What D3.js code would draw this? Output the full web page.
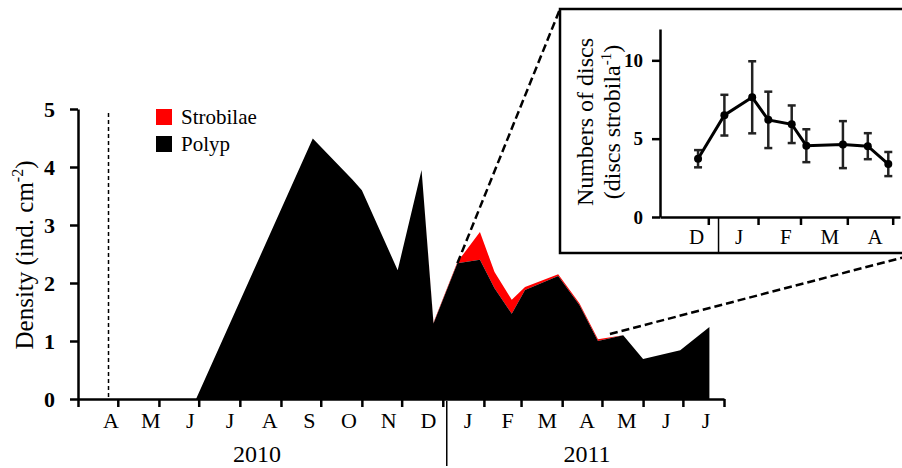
<!DOCTYPE html>
<html><head><meta charset="utf-8">
<script src="https://cdn.jsdelivr.net/npm/d3@7"></script>
<style>body{margin:0;background:#fff}svg{display:block}text{font-family:"Liberation Serif","Times New Roman",serif}</style>
</head><body><svg id="c" width="902" height="468"></svg>
<script>
// ---- main chart data ----
const sampleDates = ["2010-04-24","2010-06-29","2010-09-25","2010-10-25","2010-11-01","2010-11-28","2010-12-16","2010-12-25","2011-01-12","2011-01-29","2011-02-09","2011-02-22","2011-03-04","2011-03-29","2011-04-14","2011-04-28","2011-05-17","2011-06-01","2011-06-29","2011-07-21"];
const polyp      = [0,0,4.49,3.78,3.6,2.22,3.95,1.30,2.34,2.40,1.91,1.47,1.88,2.12,1.62,1.00,1.10,0.69,0.84,1.24];
const strobilae  = [0,0,0,0,0,0,0,0.02,0.02,0.48,0.28,0.24,0.05,0.03,0.03,0.03,0,0,0,0];
const monthLabels = ["A","M","J","J","A","S","O","N","D","J","F","M","A","M","J","J"];
const yearLabels = ["2010","2011"];
const yTicks = [0,1,2,3,4,5];
const legendItems = [{name:"Strobilae",color:"#ff0000"},{name:"Polyp",color:"#000000"}];
const markerDate = "2010-04-24";
// ---- inset data ----
const insetDates = ["2010-12-18","2011-01-05","2011-01-24","2011-02-04","2011-02-20","2011-03-02","2011-03-27","2011-04-13","2011-04-27"];
const insetMean  = [3.72,6.5,7.64,6.2,5.92,4.55,4.62,4.52,3.38];
const insetErr   = [0.55,1.3,2.3,1.8,1.2,1.05,1.5,0.83,0.77];
const insetTicks = ["2010-12-25","2011-01-28","2011-02-26","2011-03-30","2011-04-30"];
const insetLabelDates = ["2010-12-17","2011-01-15","2011-02-16","2011-03-18","2011-04-18"];
const insetLabels = ["D","J","F","M","A"];
const insetYTicks = [0,5,10];

const P = d3.timeParse("%Y-%m-%d");
const svg = d3.select("#c");

// scales main
const x = d3.scaleTime().domain([P("2010-04-01"),P("2011-08-01")]).range([78,724]);
const y = d3.scaleLinear().domain([0,5]).range([399,109]);
const xl = d3.scalePoint().domain(d3.range(monthLabels.length)).range([111,706]);

const rows = sampleDates.map((d,i)=>({date:P(d),polyp:polyp[i],strob:strobilae[i]}));
const stack = d3.stack().keys(["polyp","strob"])(rows);
const area = d3.area().x(d=>x(d.data.date)).y0(d=>y(d[0])).y1(d=>y(d[1]));
svg.append("path").datum(stack[1]).attr("d",area).attr("fill","#ff0000");
svg.append("path").datum(stack[0]).attr("d",area).attr("fill","#000");

// dashed marker line
svg.append("line").attr("x1",x(P(markerDate))).attr("x2",x(P(markerDate)))
  .attr("y1",y(4.93)).attr("y2",y(0)).attr("stroke","#000").attr("stroke-width",1.5).attr("stroke-dasharray","4,3");

// y axis
const gy = svg.append("g").attr("transform","translate(78,0)")
  .call(d3.axisLeft(y).tickValues(yTicks).tickSize(8).tickSizeOuter(0).tickFormat(d3.format("d")));
gy.select(".domain").attr("stroke-width",2.5);
gy.selectAll(".tick line").attr("stroke-width",2.5);
gy.selectAll(".tick text").attr("font-size",22).attr("font-weight","bold").attr("x",-23).attr("font-family","Liberation Serif");

// x axis
const monthTicks = d3.timeMonth.range(P("2010-04-01"),P("2011-08-02"));
const gx = svg.append("g").attr("transform","translate(0,399)")
  .call(d3.axisBottom(x).tickValues(monthTicks).tickSize(8).tickSizeOuter(0).tickFormat(""));
gx.select(".domain").attr("stroke-width",2.5);
gx.selectAll(".tick line").attr("stroke-width",2.5);
svg.append("g").selectAll("text").data(monthLabels).join("text")
  .attr("x",(d,i)=>xl(i)).attr("y",428).attr("text-anchor","middle").attr("font-size",22).text(d=>d);

// year separator & labels
svg.append("line").attr("x1",x(P("2011-01-04"))).attr("x2",x(P("2011-01-04"))).attr("y1",401).attr("y2",466).attr("stroke","#000").attr("stroke-width",1.5);
svg.append("text").attr("x",257).attr("y",462).attr("text-anchor","middle").attr("font-size",24).text(yearLabels[0]);
svg.append("text").attr("x",587).attr("y",462).attr("text-anchor","middle").attr("font-size",24).text(yearLabels[1]);

// y title
const yt = svg.append("text").attr("transform","translate(33,255) rotate(-90)").attr("text-anchor","middle").attr("font-size",25);
yt.append("tspan").text("Density (ind. cm");
yt.append("tspan").attr("font-size",16).attr("dy",-10).text("-2");
yt.append("tspan").attr("dy",10).text(")");

// legend
const lg = svg.append("g");
legendItems.forEach((it,i)=>{
  lg.append("rect").attr("x",156).attr("y",109+i*27).attr("width",16).attr("height",16).attr("fill",it.color);
  lg.append("text").attr("x",181).attr("y",124+i*27).attr("font-size",21).text(it.name);
});

// zoom lines
svg.append("line").attr("x1",x(P("2011-01-12"))).attr("y1",y(2.34)).attr("x2",560).attr("y2",9)
  .attr("stroke","#000").attr("stroke-width",2.5).attr("stroke-dasharray","8,4");
svg.append("line").attr("x1",x(P("2011-05-07"))).attr("y1",y(1.12)).attr("x2",920).attr("y2",253)
  .attr("stroke","#000").attr("stroke-width",2.5).attr("stroke-dasharray","8,4");

// ---- inset ----
svg.append("rect").attr("x",560).attr("y",9).attr("width",380).attr("height",244).attr("fill","#fff").attr("stroke","#000").attr("stroke-width",2.5);
const ix = d3.scaleTime().domain([P("2010-11-22"),P("2011-05-05")]).range([660,900]);
const iy = d3.scaleLinear().domain([0,12]).range([217,29]);
const giy = svg.append("g").attr("transform","translate(660,0)")
  .call(d3.axisLeft(iy).tickValues(insetYTicks).tickSize(8).tickSizeOuter(0).tickFormat(d3.format("d")));
giy.select(".domain").attr("stroke-width",2.5);
giy.selectAll(".tick line").attr("stroke-width",2.5);
giy.selectAll(".tick text").attr("font-size",19).attr("font-weight","bold").attr("x",-17).attr("font-family","Liberation Serif");
const gix = svg.append("g").attr("transform","translate(0,217)")
  .call(d3.axisBottom(ix).tickValues(insetTicks.map(P)).tickSize(8).tickSizeOuter(0).tickFormat(""));
gix.select(".domain").attr("stroke-width",2.5);
gix.selectAll(".tick line").attr("stroke-width",2.5);
svg.append("g").selectAll("text").data(insetLabels).join("text")
  .attr("x",(d,i)=>ix(P(insetLabelDates[i]))).attr("y",244).attr("text-anchor","middle").attr("font-size",21).text(d=>d);
svg.append("line").attr("x1",ix(P("2011-01-01"))).attr("x2",ix(P("2011-01-01"))).attr("y1",218).attr("y2",253).attr("stroke","#000").attr("stroke-width",1.5);

// inset title
const it1 = svg.append("text").attr("transform","translate(593,122) rotate(-90)").attr("text-anchor","middle").attr("font-size",24).text("Numbers of discs");
const it2 = svg.append("text").attr("transform","translate(620,122) rotate(-90)").attr("text-anchor","middle").attr("font-size",24);
it2.append("tspan").text("(discs strobila");
it2.append("tspan").attr("font-size",15).attr("dy",-9).text("-1");
it2.append("tspan").attr("dy",9).text(")");

const ipts = insetDates.map((d,i)=>({date:P(d),m:insetMean[i],e:insetErr[i]}));
const eb = svg.append("g").attr("stroke","#222").attr("stroke-width",2.5);
ipts.forEach(p=>{
  const cx = ix(p.date);
  eb.append("line").attr("x1",cx).attr("x2",cx).attr("y1",iy(p.m+p.e)).attr("y2",iy(p.m-p.e));
  eb.append("line").attr("x1",cx-4).attr("x2",cx+4).attr("y1",iy(p.m+p.e)).attr("y2",iy(p.m+p.e));
  eb.append("line").attr("x1",cx-4).attr("x2",cx+4).attr("y1",iy(p.m-p.e)).attr("y2",iy(p.m-p.e));
});
svg.append("path").datum(ipts).attr("d",d3.line().x(d=>ix(d.date)).y(d=>iy(d.m)))
  .attr("fill","none").attr("stroke","#000").attr("stroke-width",3);
svg.append("g").selectAll("circle").data(ipts).join("circle")
  .attr("cx",d=>ix(d.date)).attr("cy",d=>iy(d.m)).attr("r",4).attr("fill","#000");
</script></body></html>
